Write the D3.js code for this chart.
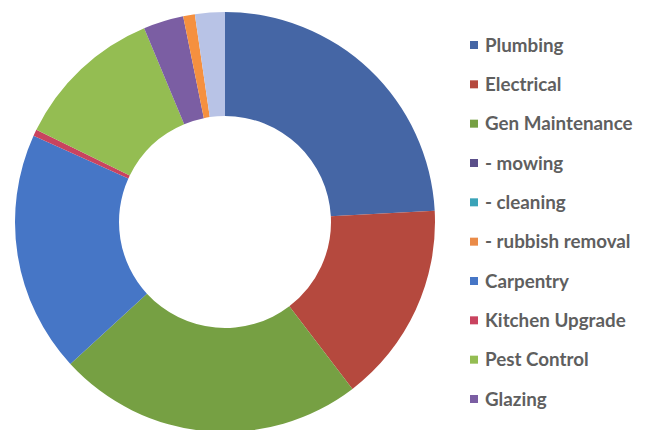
<!DOCTYPE html>
<html>
<head>
<meta charset="utf-8">
<script src="https://cdn.jsdelivr.net/npm/d3@7"></script>
<style>
  html, body { margin: 0; padding: 0; background: #ffffff; }
  svg { display: block; }
</style>
</head>
<body>
<svg id="chart" width="658" height="430"></svg>
<script>
// Maintenance spend share by trade (percent of total)
const categories = ["Plumbing", "Electrical", "Gen Maintenance", "- mowing", "- cleaning",
  "- rubbish removal", "Carpentry", "Kitchen Upgrade", "Pest Control", "Glazing",
  "Other", "Sundry"];
const shares = [24.2, 15.5, 23.6, 0, 0, 0, 18.6, 0.5, 11.5, 3.1, 0.9, 2.3];
const colors = ["#4566a5", "#b5493e", "#76a043", "#5b4f8a", "#3aa3b8", "#ea8b48",
  "#4676c6", "#c9435f", "#94bd52", "#7b5ea3", "#f5903f", "#b8c3e6"];
// The legend lists the first ten entries only
const legendCount = 10;

const svg = d3.select("#chart");
const cx = 225, cy = 222, outerR = 210, innerR = 106;

const data = categories.map((c, i) => ({ name: c, value: shares[i], color: colors[i] }));

const pie = d3.pie().sort(null).value(d => d.value).startAngle(0).endAngle(2 * Math.PI);
const arc = d3.arc().innerRadius(innerR).outerRadius(outerR);

svg.append("g")
  .attr("transform", `translate(${cx},${cy})`)
  .selectAll("path")
  .data(pie(data).filter(d => d.data.value > 0))
  .join("path")
  .attr("d", arc)
  .attr("fill", d => d.data.color);

// Legend
const legendItems = data.slice(0, legendCount);
const ly = d3.scalePoint().domain(legendItems.map(d => d.name)).range([45, 399]);

const legend = svg.append("g");
const rows = legend.selectAll("g")
  .data(legendItems)
  .join("g")
  .attr("transform", d => `translate(470,${ly(d.name)})`);

rows.append("rect")
  .attr("x", 0).attr("y", -4).attr("width", 8).attr("height", 8)
  .attr("fill", d => d.color);

rows.append("text")
  .attr("x", 15).attr("y", 0)
  .attr("dy", "0.35em")
  .attr("font-family", "Lato, 'Open Sans', sans-serif")
  .attr("font-weight", 700)
  .attr("font-size", 18.8)
  .attr("fill", "#5f5f5f")
  .text(d => d.name);
</script>
</body>
</html>
